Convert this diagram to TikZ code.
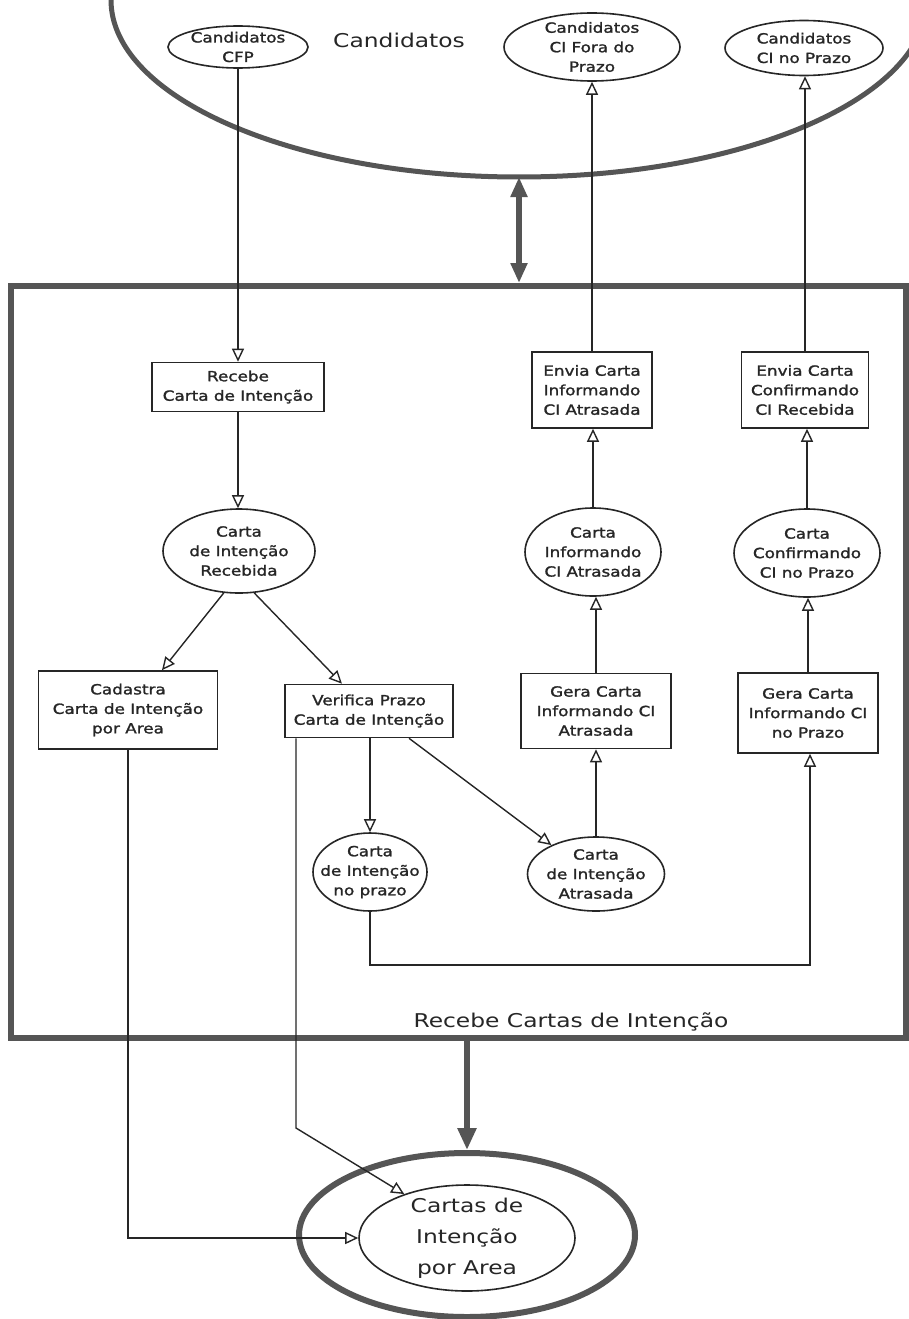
\documentclass[tikz,border=0pt]{standalone}
\usepackage{fontspec}
\usetikzlibrary{shapes.geometric,arrows.meta}
\newfontfamily\lblfont[FakeStretch=1.2,FakeBold=1.5]{DejaVu Sans}
\newfontfamily\bigfont[FakeStretch=1.23]{DejaVu Sans}
\definecolor{ink}{HTML}{262626}
\definecolor{heavy}{HTML}{555555}

\begin{document}
\begin{tikzpicture}[x=1pt,y=-1pt,
  every node/.style={text=ink},
  lbl/.style={font=\lblfont\fontsize{14}{19.5}\selectfont, align=center},
  proc/.style={lbl, draw=ink, line width=1.6pt, rectangle, inner sep=0pt},
  store/.style={lbl, draw=ink, line width=1.6pt, ellipse, inner xsep=-50pt, inner ysep=-22pt},
  flow/.style={draw=ink, line width=1.4pt, -{Triangle[open,length=13pt,width=12pt]}},
  heavyline/.style={draw=heavy, line width=6pt},
  big/.style={font=\bigfont\fontsize{19}{31}\selectfont, align=center}
]
\useasboundingbox[fill=white] (0,0) rectangle (909,1319);

% candidate store (open arc at the top)
\draw[heavyline, line width=5pt] (111,0) arc[start angle=180, end angle=0, x radius=408, y radius=177];
\coordinate (arcb) at (519,177);
\node[big, anchor=base] (cand) at (399,48) {Candidatos};
\node[store, minimum width=140pt, minimum height=42pt] (cfp) at (238,47) {Candidatos\\CFP};
\node[store, minimum width=176pt, minimum height=68pt] (fora) at (592,47) {Candidatos\\CI Fora do\\Prazo};
\node[store, minimum width=158pt, minimum height=55pt] (noprazo) at (804,48) {Candidatos\\CI no Prazo};

% process frame
\node[draw=heavy, line width=6pt, minimum width=895pt, minimum height=752pt, inner sep=0pt] (frame) at (458.5,662) {};
\node[big, anchor=base] (title) at (571,1027) {Recebe Cartas de Intenção};

% inner processes and stores
\node[proc, minimum width=172pt, minimum height=49pt] (rec) at (238,387) {Recebe\\Carta de Intenção};
\node[proc, minimum width=120pt, minimum height=76pt] (envA) at (592,390) {Envia Carta\\Informando\\CI Atrasada};
\node[proc, minimum width=127pt, minimum height=76pt] (envC) at (805,390) {Envia Carta\\Confirmando\\CI Recebida};
\node[store, minimum width=152pt, minimum height=84pt] (recd) at (239,551) {Carta\\de Intenção\\Recebida};
\node[store, minimum width=136pt, minimum height=88pt] (infA) at (593,552) {Carta\\Informando\\CI Atrasada};
\node[store, minimum width=146pt, minimum height=88pt] (confC) at (807,553) {Carta\\Confirmando\\CI no Prazo};
\node[proc, minimum width=179pt, minimum height=78pt] (cad) at (128,710) {Cadastra\\Carta de Intenção\\por Area};
\node[proc, minimum width=168pt, minimum height=53pt] (ver) at (369,711) {Verifica Prazo\\Carta de Intenção};
\node[proc, minimum width=150pt, minimum height=75pt] (geraA) at (596,711) {Gera Carta\\Informando CI\\Atrasada};
\node[proc, minimum width=140pt, minimum height=80pt] (geraC) at (808,713) {Gera Carta\\Informando CI\\no Prazo};
\node[store, minimum width=114pt, minimum height=78pt] (cip) at (370,872) {Carta\\de Intenção\\no prazo};
\node[store, minimum width=137pt, minimum height=74pt] (cia) at (596,874) {Carta\\de Intenção\\Atrasada};

% result store
\node[draw=heavy, line width=6pt, ellipse, minimum width=336pt, minimum height=164pt, inner sep=0pt] (outer) at (467,1235) {};
\node[big, draw=ink, line width=1.6pt, ellipse, inner xsep=-60pt, inner ysep=-40pt,
      minimum width=216pt, minimum height=106pt] (inner) at (467,1238) {Cartas de\\Intenção\\por Area};

% heavy flows
\draw[heavyline, {Triangle[length=20pt,width=16pt]}-{Triangle[length=20pt,width=16pt]}] (arcb) -- (arcb |- frame.north);
\draw[heavyline, -{Triangle[length=22pt,width=18pt]}] (frame.south -| outer.north) -- (outer.north);

% data flows
\draw[flow] (cfp.south) -- (cfp.south |- rec.north);
\draw[flow] (rec.south) -- (rec.south |- recd.north);
\draw[flow] (recd.250) -- ([xshift=34pt]cad.north);
\draw[flow] (recd.290) -- ([xshift=-27pt]ver.north);
\draw[flow] (cip.north |- ver.south) -- (cip.north);
\draw[flow] ([xshift=40pt]ver.south) -- (cia.147);
\draw[flow] (cia.north) -- (geraA.south);
\draw[flow] (geraA.north) -- (geraA.north |- infA.south);
\draw[flow] (infA.north) -- (infA.north |- envA.south);
\draw[flow] (envA.north) -- (envA.north |- fora.south);
\draw[flow] (geraC.north) -- (geraC.north |- confC.south);
\draw[flow] (confC.north) -- (confC.north |- envC.south);
\draw[flow] (envC.north) -- (envC.north |- noprazo.south);
\coordinate (cbend) at (810,965);
\draw[flow] (cip.south) |- (cbend) -- (cbend |- geraC.south);
\draw[flow] (cad.south) |- (inner.west);
\coordinate (vbend) at (296,1128);
\draw[flow] (vbend |- ver.south) -- (vbend) -- (inner.145);
\end{tikzpicture}
\end{document}
